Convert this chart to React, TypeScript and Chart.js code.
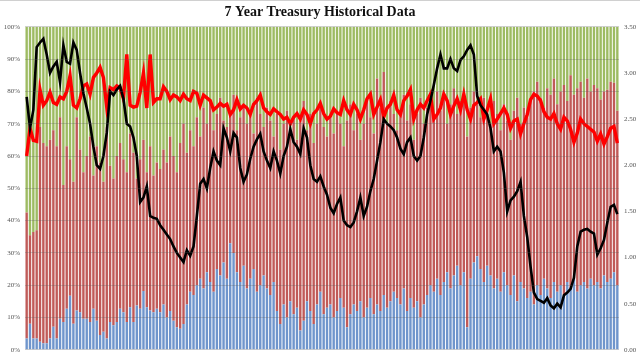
import React, { useEffect, useRef } from "react";
import { Chart, registerables } from "chart.js";
Chart.register(...registerables);

// Share of each auction awarded (%), bottom to top: direct (blue), indirect (red); dealers fill the rest (green)
const directPct: number[] = [
  3.5, 8.1, 3.5, 3.5, 2.5, 2.0, 2.0, 3.5, 7.1, 3.5, 9.6, 8.6, 12.7, 16.7, 8.1, 12.2, 11.6, 9.6, 9.6, 8.6,
  12.7, 9.0, 4.6, 5.6, 3.5, 8.6, 7.6, 8.6, 12.7, 11.6, 8.6, 13.2, 8.6, 13.7, 12.7, 18.2, 13.2, 12.2, 11.6, 12.7,
  11.6, 14, 10, 12, 9, 7, 6.5, 8, 14, 18, 17, 20, 22, 19, 24, 21, 18, 25, 23, 27,
  22, 33, 30, 24, 21, 26, 19, 22, 25, 18, 20, 23, 19, 17, 21, 12, 8, 14, 10, 15,
  11, 13, 6, 9, 15, 12, 8, 14, 18, 11, 13, 14, 10, 12, 16, 13, 7, 11, 14, 12,
  15, 10, 13, 16, 11, 14, 12, 17, 13, 15, 18, 16, 14, 19, 12, 16, 13, 15, 10, 14,
  17, 20, 18, 22, 17, 21, 24, 19, 23, 26, 20, 24, 7, 22, 27, 29, 25, 21, 26, 23,
  19, 22, 18, 24, 20, 17, 23, 15, 21, 19, 16, 18, 14, 20, 17, 22, 19, 16, 21, 18,
  20, 17, 21, 19, 22, 18, 20, 21, 19, 22, 20, 21, 19, 23, 21, 22, 24, 20,
];
const indirectPct: number[] = [
  39, 27.4, 33, 33.5, 66.5, 62, 61, 61.5, 60.9, 59.5, 62.4, 42.4, 50.3, 42.3, 43.9, 59.8, 50.4, 45.4, 50.4, 57.4,
  41.3, 54, 53.4, 46.4, 65.5, 48.4, 45.4, 51.4, 51.3, 47.4, 46.4, 53.8, 52.4, 39.3, 46.3, 46.8, 41.8, 50.8, 42.4, 45.3,
  44.4, 48, 48, 54, 51, 48, 57.5, 62, 47, 50, 46, 52, 44, 56, 46, 56, 50, 48, 55, 44,
  47, 41, 49, 44, 51, 50, 51, 52, 42, 60, 53, 46, 56, 54, 45, 61, 54, 56, 64, 53,
  61, 52, 65, 68, 53, 61, 56, 56, 57, 58, 53, 58, 57, 62, 54, 50, 64, 65, 54, 61,
  50, 60, 65, 56, 56, 70, 63, 69, 57, 62, 55, 52, 60, 60, 59, 60, 52, 58, 68, 56,
  58, 57, 54, 58, 57, 57, 46, 57, 58, 47, 57, 55, 59, 53, 53, 47, 47, 57, 48, 47,
  58, 51, 50, 52, 51, 48, 51, 63, 49, 56, 56, 59, 66, 63, 61, 53, 62, 63, 63, 58,
  60, 65, 56, 66, 57, 63, 63, 57, 65, 58, 62, 60, 58.5, 57, 59.5, 61, 58.7, 54,
];

// 7-year yield (%) and bid-to-cover ratio, right axis
const yieldPct: number[] = [
  2.74, 2.4, 2.6, 3.28, 3.33, 3.37, 3.2, 3.0, 3.07, 3.12, 2.9, 3.3, 3.12, 3.1, 3.33, 3.25, 3.0, 2.78, 2.62, 2.45,
  2.2, 2.0, 1.96, 2.1, 2.35, 2.8, 2.76, 2.82, 2.86, 2.72, 2.45, 2.42, 2.3, 2.1, 1.6, 1.65, 1.77, 1.45, 1.43, 1.42,
  1.35, 1.3, 1.25, 1.2, 1.12, 1.05, 1.0, 0.95, 1.08, 1.02, 1.12, 1.45, 1.8, 1.85, 1.75, 1.97, 2.15, 2.05, 2.0, 2.4,
  2.3, 2.15, 2.35, 2.3, 1.97, 1.82, 1.9, 2.07, 2.2, 2.28, 2.34, 2.15, 2.05, 1.97, 2.15, 2.05, 1.91, 2.1, 2.2, 2.39,
  2.25, 2.2, 2.12, 2.4, 2.3, 2.0, 1.85, 1.82, 1.88, 1.77, 1.68, 1.54, 1.48, 1.58, 1.65, 1.4, 1.35, 1.33, 1.38, 1.5,
  1.65, 1.45, 1.55, 1.72, 1.85, 2.05, 2.25, 2.5, 2.45, 2.42, 2.38, 2.3, 2.18, 2.12, 2.25, 2.3, 2.1, 2.05, 2.1, 2.3,
  2.55, 2.7, 2.87, 3.05, 3.2, 3.05, 3.05, 3.15, 3.05, 3.02, 3.14, 3.18, 3.25, 3.3, 3.2, 2.75, 2.65, 2.6, 2.55, 2.4,
  2.15, 2.2, 2.15, 1.92, 1.5, 1.62, 1.66, 1.72, 1.82, 1.45, 1.22, 0.9, 0.62, 0.55, 0.53, 0.51, 0.56, 0.48, 0.45, 0.5,
  0.46, 0.59, 0.62, 0.66, 0.78, 1.12, 1.28, 1.3, 1.31, 1.28, 1.26, 1.03, 1.1, 1.19, 1.38, 1.55, 1.57, 1.47,
];
const bidToCover: number[] = [
  2.1, 2.4, 2.27, 2.26, 2.82, 2.65, 2.7, 2.79, 2.68, 2.66, 2.74, 2.72, 2.8, 2.97, 2.65, 2.62, 2.72, 2.86, 2.88, 2.77,
  2.95, 3.0, 3.06, 2.95, 2.63, 2.84, 2.82, 2.86, 2.84, 2.72, 3.2, 2.65, 2.63, 2.64, 2.79, 3.0, 2.62, 3.2, 2.68, 2.72,
  2.72, 2.85, 2.8, 2.71, 2.76, 2.74, 2.7, 2.77, 2.72, 2.7, 2.8, 2.78, 2.65, 2.76, 2.73, 2.7, 2.6, 2.63, 2.67, 2.64,
  2.66, 2.55, 2.6, 2.71, 2.61, 2.65, 2.62, 2.55, 2.66, 2.7, 2.76, 2.62, 2.58, 2.55, 2.61, 2.58, 2.55, 2.5, 2.52, 2.45,
  2.52, 2.56, 2.5, 2.6, 2.55, 2.45, 2.56, 2.6, 2.67, 2.56, 2.5, 2.53, 2.61, 2.57, 2.55, 2.7, 2.6, 2.55, 2.66, 2.6,
  2.5, 2.6, 2.72, 2.77, 2.55, 2.63, 2.71, 2.52, 2.62, 2.66, 2.76, 2.6, 2.55, 2.7, 2.75, 2.82, 2.5, 2.6, 2.66, 2.62,
  2.7, 2.77, 2.5, 2.55, 2.62, 2.77, 2.7, 2.55, 2.64, 2.72, 2.6, 2.77, 2.6, 2.5, 2.65, 2.68, 2.72, 2.5, 2.6, 2.72,
  2.45, 2.5, 2.56, 2.62, 2.55, 2.4, 2.48, 2.5, 2.34, 2.45, 2.55, 2.71, 2.77, 2.75, 2.7, 2.58, 2.52, 2.5, 2.56, 2.45,
  2.39, 2.52, 2.48, 2.39, 2.25, 2.35, 2.5, 2.45, 2.42, 2.39, 2.36, 2.26, 2.34, 2.23, 2.31, 2.4, 2.42, 2.24,
];

const leftTicks: number[] = [0, 10, 20, 30, 40, 50, 60, 70, 80, 90, 100];
const rightTicks: number[] = [0, 0.5, 1, 1.5, 2, 2.5, 3, 3.5];

const auctions: string[] = directPct.map((_, i) => `#${i + 1}`);
const dealerPct: number[] = directPct.map((d, i) => 100 - d - indirectPct[i]);

export default function App() {
  const ref = useRef<HTMLCanvasElement>(null);
  useEffect(() => {
    if (!ref.current) return;
    const tickFont = { family: "Liberation Serif", size: 7 };
    const chart = new Chart(ref.current, {
      type: "bar",
      data: {
        labels: auctions,
        datasets: [
          { type: "line", label: "Yield", data: yieldPct, yAxisID: "y1", borderColor: "#000000", borderWidth: 2.6, pointRadius: 0, tension: 0, order: 0 },
          { type: "line", label: "Bid to Cover", data: bidToCover, yAxisID: "y1", borderColor: "#ff0000", borderWidth: 3.4, pointRadius: 0, tension: 0, order: 1 },
          { type: "bar", label: "Direct", data: directPct, backgroundColor: "#6f95cc", yAxisID: "y", stack: "s", order: 2, barPercentage: 0.72, categoryPercentage: 1 },
          { type: "bar", label: "Indirect", data: indirectPct, backgroundColor: "#c05a58", yAxisID: "y", stack: "s", order: 2, barPercentage: 0.72, categoryPercentage: 1 },
          { type: "bar", label: "Dealers", data: dealerPct, backgroundColor: "#9dbb62", yAxisID: "y", stack: "s", order: 2, barPercentage: 0.72, categoryPercentage: 1 },
        ],
      },
      options: {
        animation: false,
        responsive: false,
        maintainAspectRatio: false,
        layout: { padding: { top: 0, bottom: -4, left: 0, right: 0 } },
        plugins: {
          legend: { display: false },
          tooltip: { enabled: false },
          title: {
            display: true,
            text: "7 Year Treasury Historical Data",
            color: "#111",
            font: { family: "Liberation Serif", size: 14, weight: "bold" },
            padding: { top: 4, bottom: 6 },
          },
        },
        scales: {
          x: { stacked: true, display: false, offset: true },
          y: {
            stacked: true,
            position: "left",
            min: 0,
            max: 100,
            afterBuildTicks: (s: any) => { s.ticks = leftTicks.map((v) => ({ value: v })); },
            afterFit: (s: any) => { s.width = 25; },
            ticks: { callback: (v: any) => `${v}%`, font: tickFont, color: "#555", padding: 5 },
            grid: { color: "rgba(90,90,90,0.28)", drawTicks: false, z: 1 },
            border: { display: false },
          },
          y1: {
            position: "right",
            min: 0,
            max: 3.5,
            afterBuildTicks: (s: any) => { s.ticks = rightTicks.map((v) => ({ value: v })); },
            afterFit: (s: any) => { s.width = 21; },
            ticks: { callback: (v: any) => Number(v).toFixed(2), font: tickFont, color: "#555", padding: 5 },
            grid: { display: false, drawTicks: false },
            border: { display: false },
          },
        },
      },
    } as any);
    return () => chart.destroy();
  }, []);
  return (
    <div style={{ position: "fixed", left: 0, top: 0, width: 640, height: 359, background: "#fff" }}>
      <canvas ref={ref} width={640} height={359} style={{ display: "block" }} />
      <div style={{ position: "absolute", left: 0, top: 0, width: 640, height: 1, background: "#d0d0d0" }} />
    </div>
  );
}
